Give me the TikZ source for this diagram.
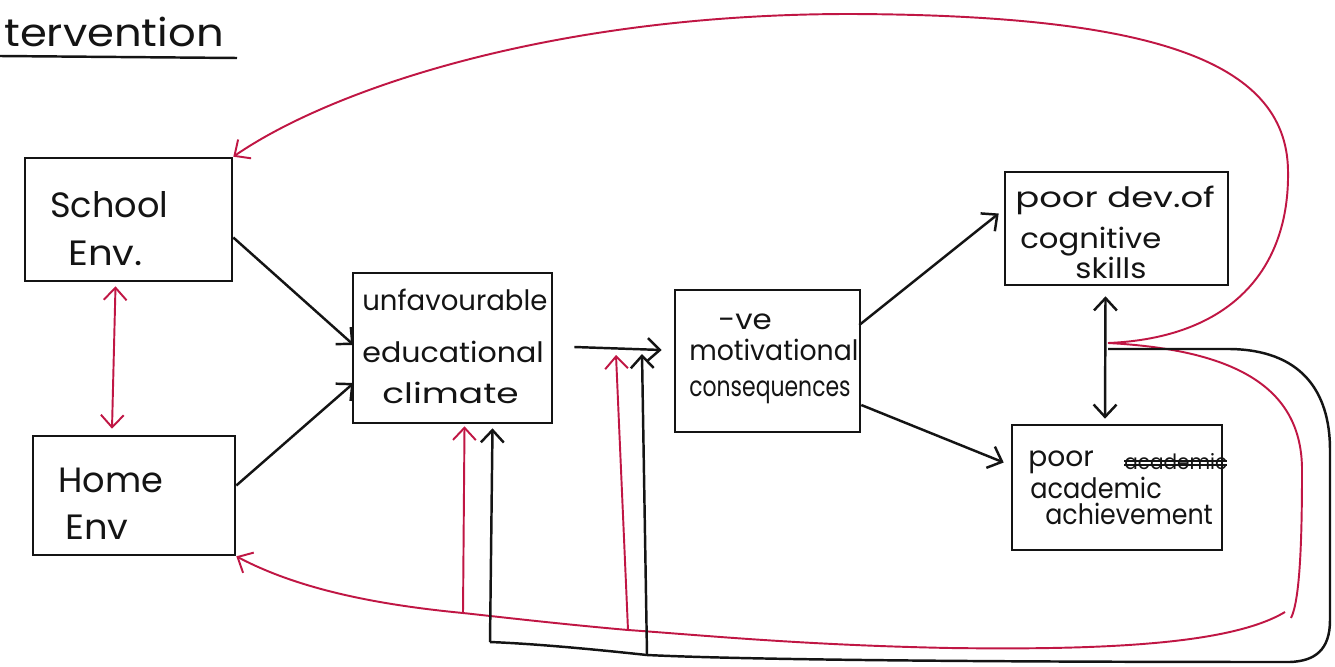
\documentclass[tikz,border=0pt]{standalone}
\usepackage{fontspec}
\setmainfont{Poppins}
\usetikzlibrary{arrows.meta,calc}
\definecolor{pen}{RGB}{20,20,20}
\definecolor{redpen}{RGB}{192,22,68}
\newcommand\scrib[1]{\setbox0\hbox{#1}\rlap{\rule[0.3ex]{\wd0}{1.3pt}}\rlap{\rule[0.7ex]{\wd0}{1pt}}\box0}
\newcommand\sx[2]{\scalebox{#1}[1]{#2}}
\tikzset{
  box/.style={draw=pen, line width=1.5pt, inner sep=0pt},
  lbl/.style={anchor=west, inner sep=0pt, text=pen, font=\fontsize{16}{18}\selectfont},
  big/.style={font=\fontsize{20}{22}\selectfont},
  blk/.style={draw=pen, line width=1.4pt},
  red/.style={draw=redpen, line width=1.1pt},
  tip/.style={-{Straight Barb[length=7pt,width=13pt]}},
  dtip/.style={{Straight Barb[length=7pt,width=13pt]}-{Straight Barb[length=7pt,width=13pt]}}
}
\begin{document}
\begin{tikzpicture}[x=0.02cm,y=-0.02cm]
\useasboundingbox (0,0) rectangle (1335,666);
\fill[white] (0,0) rectangle (1335,666);
% title
\node[lbl, font=\fontsize{22}{24}\selectfont] (title) at (4,32) {\sx{1.12}{tervention}};
\draw[blk] (0,56) -- (237,58);
% boxes
\node[box, minimum width=4.14cm, minimum height=2.46cm] (school) at (128.5,219.5) {};
\node[box, minimum width=4.04cm, minimum height=2.38cm] (home) at (134,495.5) {};
\node[box, minimum width=3.98cm, minimum height=3.0cm] (unfav) at (452.5,348) {};
\node[box, minimum width=3.7cm, minimum height=2.84cm] (motiv) at (767.5,361) {};
\node[box, minimum width=4.46cm, minimum height=2.26cm] (cog) at (1116.5,228.5) {};
\node[box, minimum width=4.2cm, minimum height=2.5cm] (acad) at (1117,487.5) {};
% texts
\node[lbl,big] (t1) at (50,205) {School};
\node[lbl,big] (t2) at (68,253) {\sx{1.1}{Env.}};
\node[lbl,big] (t3) at (58,480) {Home};
\node[lbl,big] (t4) at (65,527) {\sx{1.05}{Env}};
\node[lbl] (t5) at (362,300) {\sx{0.98}{unfavourable}};
\node[lbl] (t6) at (362,352) {\sx{1.07}{educational}};
\node[lbl] (t7) at (382,393) {\sx{1.28}{climate}};
\node[lbl] (t8) at (718,322) {\sx{1.1}{-ve}};
\node[lbl] (t9) at (689,350) {\sx{0.95}{motivational}};
\node[lbl] (t10) at (689,392) {\sx{0.78}{consequences}};
\node[lbl] (t11) at (1015,200) {\sx{1.26}{poor dev.of}};
\node[lbl] (t12) at (1020,242) {\sx{1.09}{cognitive}};
\node[lbl] (t13) at (1075,268) {\sx{1.1}{skills}};
\node[lbl] (t14) at (1028,462) {poor};
\node[lbl, font=\fontsize{12}{14}\selectfont] (t15) at (1124,462) {\sx{0.95}{\scrib{academic}}};
\node[lbl] (t16) at (1030,488) {\sx{0.91}{academic}};
\node[lbl] (t17) at (1045,514) {\sx{0.9}{achievement}};
% main arrows
\draw[blk,tip] ($(school.east)+(0,18)$) -- ($(unfav.west)+(2,-3)$);
\draw[blk,tip] ($(home.east)+(0,-10)$) -- ($(unfav.west)+(2,35)$);
\draw[red,dtip] ($(school.south)+(-13,4)$) -- ($(home.north)+(-22,-6)$);
\coordinate (a1) at ($(unfav.east)+(21,-1)$);
\coordinate (a2) at ($(motiv.west)+(-12,-11)$);
\draw[blk,tip] (a1) -- (a2);
\draw[blk,tip] ($(motiv.east)+(-2,-36)$) -- ($(cog.west)+(-5,-15)$);
\draw[blk,tip] ($(motiv.east)+(0,44)$) -- ($(acad.west)+(-7,-25)$);
\draw[blk,dtip] ($(cog.south)+(-11,10)$) -- ($(acad.north)+(-12,-5)$);
% junction points
\coordinate (J) at (1108,343);
\coordinate (J2) at (1108,349);
% red top feedback
\draw[red,tip] (J) .. controls (1230,338) and (1290,270) .. (1288,170)
  .. controls (1286,60) and (1150,15) .. (850,14)
  .. controls (550,14) and (330,90) .. (school.north east);
% red right/bottom feedback
\draw[red] (J) .. controls (1240,350) and (1302,390) .. (1302,470)
  .. controls (1302,540) and (1300,600) .. (1291,618);
\coordinate (r1) at (1285,612);
\coordinate (r2) at (463,613);
\coordinate (r3) at (628,630);
\draw[red,tip] (r1) .. controls (1230,645) and (1100,650) .. (950,648)
  .. controls (800,645) and (700,635) .. (r3)
  .. controls (560,624) and (500,617) .. (r2)
  .. controls (380,605) and (300,590) .. (home.south east);
\draw[red,tip] (r2) -- ($(unfav.south)+(12,2)$);
\coordinate (r4) at (616,355);
\draw[red,tip] (r3) -- (r4);
% black right/bottom loop
\coordinate (b1) at (490,642);
\coordinate (b2) at (647,655);
\draw[blk] (J2) -- (1230,349) .. controls (1300,350) and (1330,390) .. (1330,450)
  -- (1330,620) .. controls (1330,650) and (1315,661) .. (1290,662)
  .. controls (1000,662) and (750,660) .. (b2) .. controls (600,650) and (540,644) .. (b1);
\draw[blk,tip] (b1) -- ($(unfav.south)+(40,4)$);
\coordinate (b3) at (642,354);
\draw[blk,tip] (b2) -- (b3);
\end{tikzpicture}
\end{document}
